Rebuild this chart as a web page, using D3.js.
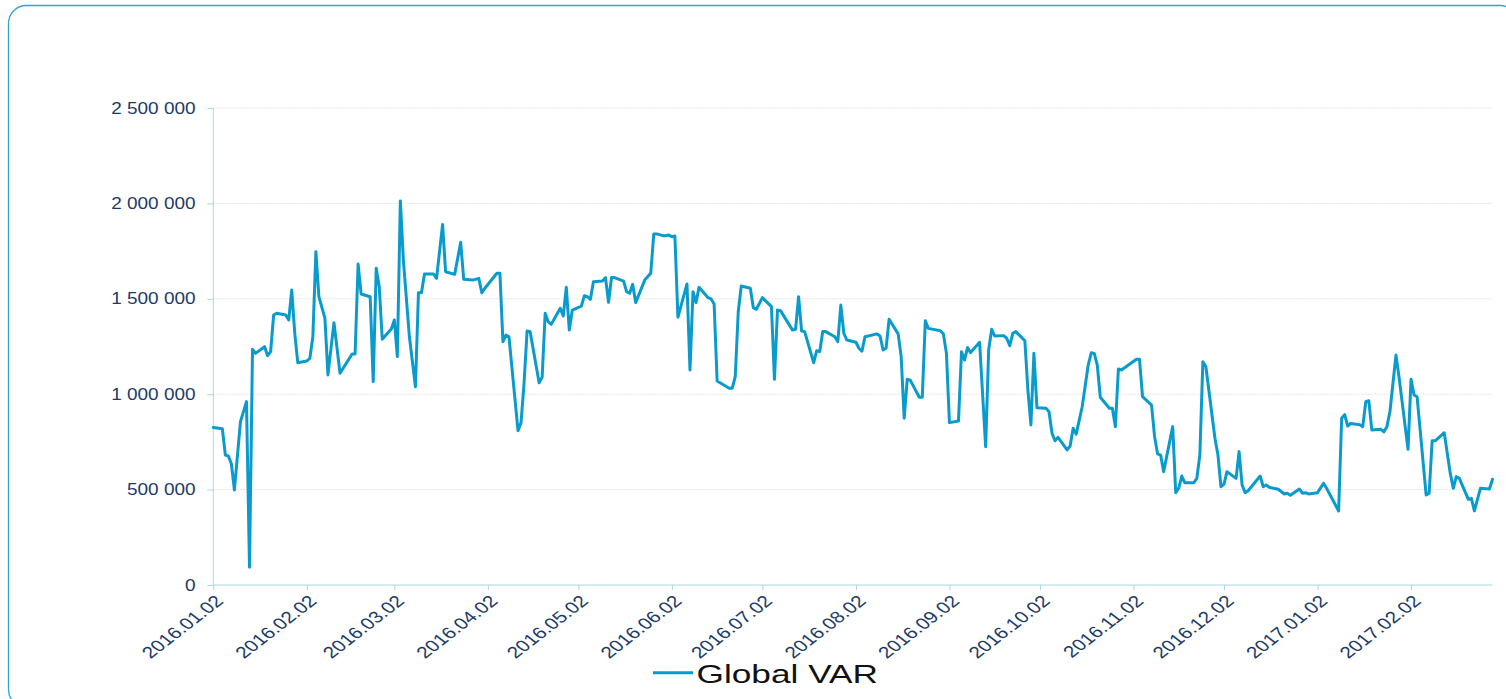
<!DOCTYPE html>
<html><head><meta charset="utf-8">
<script src="https://cdn.jsdelivr.net/npm/d3@7"></script>
<style>html,body{margin:0;padding:0;background:#fff;overflow:hidden} svg{display:block;font-family:"Liberation Sans",Arial,sans-serif}</style>
</head><body><svg id="chart" width="1506" height="699"></svg>
<script>
// ---- data ----
const seriesName = "Global VAR";
const dates = [
"2016-01-02","2016-01-05","2016-01-06","2016-01-07","2016-01-08","2016-01-09","2016-01-11","2016-01-13","2016-01-14","2016-01-15",
"2016-01-16","2016-01-19","2016-01-20","2016-01-21","2016-01-22","2016-01-23","2016-01-26","2016-01-27","2016-01-28","2016-01-29",
"2016-01-30","2016-02-02","2016-02-03","2016-02-04","2016-02-05","2016-02-06","2016-02-08","2016-02-09","2016-02-11","2016-02-13",
"2016-02-17","2016-02-18","2016-02-19","2016-02-20","2016-02-23","2016-02-24","2016-02-25","2016-02-26","2016-02-27","2016-03-01",
"2016-03-02","2016-03-03","2016-03-04","2016-03-05","2016-03-07","2016-03-09","2016-03-10","2016-03-11","2016-03-12","2016-03-15",
"2016-03-16","2016-03-18","2016-03-19","2016-03-22","2016-03-24","2016-03-25","2016-03-28","2016-03-30","2016-03-31","2016-04-01",
"2016-04-05","2016-04-06","2016-04-07","2016-04-08","2016-04-09","2016-04-12","2016-04-13","2016-04-14","2016-04-15","2016-04-16",
"2016-04-19","2016-04-20","2016-04-21","2016-04-22","2016-04-23","2016-04-26","2016-04-27","2016-04-28","2016-04-29","2016-04-30",
"2016-05-03","2016-05-04","2016-05-05","2016-05-06","2016-05-07","2016-05-10","2016-05-11","2016-05-12","2016-05-13","2016-05-14",
"2016-05-17","2016-05-18","2016-05-19","2016-05-20","2016-05-21","2016-05-24","2016-05-26","2016-05-27","2016-05-28","2016-05-30",
"2016-05-31","2016-06-01","2016-06-02","2016-06-03","2016-06-04","2016-06-07","2016-06-08","2016-06-09","2016-06-10","2016-06-11",
"2016-06-14","2016-06-15","2016-06-16","2016-06-17","2016-06-21","2016-06-22","2016-06-23","2016-06-24","2016-06-25","2016-06-28",
"2016-06-29","2016-06-30","2016-07-02","2016-07-05","2016-07-06","2016-07-07","2016-07-08","2016-07-12","2016-07-13","2016-07-14",
"2016-07-15","2016-07-16","2016-07-19","2016-07-20","2016-07-21","2016-07-22","2016-07-23","2016-07-26","2016-07-27","2016-07-28",
"2016-07-29","2016-07-30","2016-08-02","2016-08-03","2016-08-04","2016-08-05","2016-08-09","2016-08-10","2016-08-11","2016-08-12",
"2016-08-13","2016-08-16","2016-08-17","2016-08-18","2016-08-19","2016-08-20","2016-08-23","2016-08-24","2016-08-25","2016-08-26",
"2016-08-30","2016-08-31","2016-09-01","2016-09-02","2016-09-05","2016-09-06","2016-09-07","2016-09-08","2016-09-09","2016-09-12",
"2016-09-14","2016-09-15","2016-09-16","2016-09-17","2016-09-20","2016-09-21","2016-09-22","2016-09-23","2016-09-24","2016-09-27",
"2016-09-28","2016-09-29","2016-09-30","2016-10-01","2016-10-04","2016-10-05","2016-10-06","2016-10-07","2016-10-08","2016-10-11",
"2016-10-12","2016-10-13","2016-10-14","2016-10-16","2016-10-18","2016-10-19","2016-10-20","2016-10-21","2016-10-22","2016-10-25",
"2016-10-26","2016-10-27","2016-10-28","2016-10-29","2016-11-03","2016-11-04","2016-11-05","2016-11-08","2016-11-09","2016-11-10",
"2016-11-11","2016-11-12","2016-11-15","2016-11-16","2016-11-17","2016-11-18","2016-11-19","2016-11-22","2016-11-23","2016-11-24",
"2016-11-25","2016-11-26","2016-11-29","2016-11-30","2016-12-01","2016-12-02","2016-12-03","2016-12-06","2016-12-07","2016-12-08",
"2016-12-09","2016-12-10","2016-12-14","2016-12-15","2016-12-16","2016-12-17","2016-12-20","2016-12-22","2016-12-23","2016-12-24",
"2016-12-27","2016-12-28","2016-12-29","2016-12-30","2017-01-02","2017-01-04","2017-01-05","2017-01-09","2017-01-10","2017-01-11",
"2017-01-12","2017-01-13","2017-01-16","2017-01-17","2017-01-18","2017-01-19","2017-01-20","2017-01-23","2017-01-24","2017-01-25",
"2017-01-26","2017-01-28","2017-01-29","2017-02-01","2017-02-02","2017-02-03","2017-02-04","2017-02-07","2017-02-08","2017-02-09",
"2017-02-10","2017-02-13","2017-02-15","2017-02-16","2017-02-17","2017-02-18","2017-02-21","2017-02-22","2017-02-23","2017-02-25",
"2017-02-28","2017-03-01"
];
const globalVar = [
826000,819000,681000,676000,634000,498000,856000,961000,93000,1235000,
1214000,1249000,1202000,1223000,1415000,1424000,1415000,1389000,1546000,1319000,
1165000,1174000,1188000,1301000,1747000,1511000,1398000,1101000,1375000,1110000,
1211000,1211000,1682000,1525000,1511000,1066000,1660000,1564000,1288000,1342000,
1389000,1197000,2013000,1703000,1301000,1039000,1532000,1532000,1630000,1630000,
1607000,1890000,1642000,1628000,1796000,1602000,1598000,1607000,1532000,1555000,
1634000,1634000,1275000,1310000,1301000,809000,851000,1057000,1331000,1328000,
1060000,1089000,1424000,1380000,1366000,1450000,1410000,1560000,1336000,1441000,
1462000,1516000,1511000,1497000,1590000,1593000,1611000,1482000,1611000,1611000,
1593000,1537000,1529000,1576000,1480000,1598000,1634000,1840000,1840000,1831000,
1831000,1834000,1825000,1829000,1403000,1578000,1127000,1537000,1480000,1560000,
1506000,1499000,1473000,1069000,1031000,1031000,1092000,1432000,1567000,1555000,
1453000,1445000,1506000,1459000,1078000,1441000,1438000,1336000,1340000,1511000,
1331000,1328000,1165000,1228000,1223000,1328000,1328000,1301000,1275000,1467000,
1319000,1284000,1272000,1241000,1226000,1301000,1316000,1305000,1232000,1241000,
1393000,1316000,1197000,874000,1078000,1074000,984000,984000,1385000,1345000,
1333000,1316000,1214000,851000,860000,1223000,1179000,1244000,1218000,1272000,
725000,1232000,1340000,1305000,1307000,1293000,1254000,1319000,1328000,1280000,
1022000,839000,1214000,929000,926000,908000,795000,756000,774000,708000,
728000,821000,791000,934000,1153000,1217000,1214000,1153000,984000,926000,
926000,830000,1132000,1127000,1183000,1183000,987000,943000,777000,687000,
681000,594000,830000,484000,507000,571000,536000,536000,559000,681000,
1170000,1144000,769000,681000,515000,529000,594000,559000,699000,524000,
484000,494000,571000,515000,524000,512000,502000,477000,481000,470000,
503000,481000,484000,477000,484000,533000,507000,388000,874000,893000,
833000,847000,840000,830000,961000,966000,812000,816000,803000,830000,
908000,1205000,1092000,711000,1078000,996000,987000,472000,481000,756000,
756000,798000,585000,507000,568000,559000,449000,454000,389000,507000,
503000,554000
];
const yTickValues = [0, 500000, 1000000, 1500000, 2000000, 2500000];
const xTickDates = ["2016-01-02","2016-02-02","2016-03-02","2016-04-02","2016-05-02","2016-06-02","2016-07-02",
  "2016-08-02","2016-09-02","2016-10-02","2016-11-02","2016-12-02","2017-01-02","2017-02-02"];
const xDomain = ["2016-01-02","2017-03-01"];

// ---- drawing ----
const parse = d3.utcParse("%Y-%m-%d");
const fmtDate = d3.utcFormat("%Y.%m.%d");
const loc = d3.formatLocale({decimal:",", thousands:" ", grouping:[3], currency:["",""]});
const fmtNum = loc.format(",");

const svg = d3.select("#chart");
const mLeft = 213.3, mRight = 1492.5, mTop = 108, mBottom = 585;

// outer rounded frame
svg.append("rect").attr("x",8.5).attr("y",5.5).attr("width",1510).attr("height",702)
  .attr("rx",18).attr("fill","#fff").attr("stroke","#2ea6d2").attr("stroke-width",1.3);

const x = d3.scaleUtc().domain(xDomain.map(parse)).range([mLeft, mRight]);
const y = d3.scaleLinear().domain([0, 2500000]).range([mBottom, mTop]);

// gridlines
svg.append("g").selectAll("line").data(yTickValues.filter(v => v > 0)).join("line")
  .attr("x1", mLeft).attr("x2", mRight).attr("y1", d => y(d)).attr("y2", d => y(d))
  .attr("stroke", "#e4e4e4").attr("stroke-width", 1).attr("stroke-dasharray", "2,1");

// y axis
const yAxis = svg.append("g").attr("transform", `translate(${mLeft},0)`)
  .call(d3.axisLeft(y).tickValues(yTickValues).tickSize(6).tickPadding(0).tickFormat(() => ""));
yAxis.select(".domain").attr("stroke", "#a8d6ea").attr("d", `M0,${mBottom}V${mTop}`);
yAxis.selectAll(".tick line").attr("stroke", "#a8d6ea");
svg.append("g").selectAll("text").data(yTickValues).join("text")
  .attr("transform", d => `translate(195.5,${y(d)}) scale(1.2,1)`)
  .attr("text-anchor", "end").attr("dy", "0.35em")
  .attr("font-size", 15.8).attr("fill", "#1d3b68").text(d => fmtNum(d));

// x axis
const xAxis = svg.append("g").attr("transform", `translate(0,${mBottom})`)
  .call(d3.axisBottom(x).tickValues(xTickDates.map(parse)).tickSize(5).tickFormat(() => ""));
xAxis.select(".domain").attr("stroke", "#a8d6ea").attr("d", `M${mLeft},0H${mRight}`);
xAxis.selectAll(".tick line").attr("stroke", "#a8d6ea");
svg.append("g").selectAll("text").data(xTickDates).join("text")
  .attr("transform", d => `translate(${x(parse(d)) + 6},${mBottom + 13}) scale(1.29,1) rotate(-45)`)
  .attr("text-anchor", "end").attr("dy", "0.35em")
  .attr("font-size", 16.2).attr("fill", "#1d3b68").text(d => fmtDate(parse(d)));

// line
const pts = dates.map((d, i) => ({date: parse(d), v: globalVar[i]}));
svg.append("path").datum(pts)
  .attr("fill", "none").attr("stroke", "#0a9bcd").attr("stroke-width", 3)
  .attr("stroke-linejoin", "round").attr("stroke-linecap", "round")
  .attr("d", d3.line().x(d => x(d.date)).y(d => y(d.v)));

// legend
svg.append("line").attr("x1", 653).attr("x2", 693).attr("y1", 672.7).attr("y2", 672.7)
  .attr("stroke", "#0a9bcd").attr("stroke-width", 3);
svg.append("text").attr("transform", "translate(696.5,682.5) scale(1.33,1)")
  .attr("font-size", 26.5).attr("fill", "#111").text(seriesName);
</script></body></html>
